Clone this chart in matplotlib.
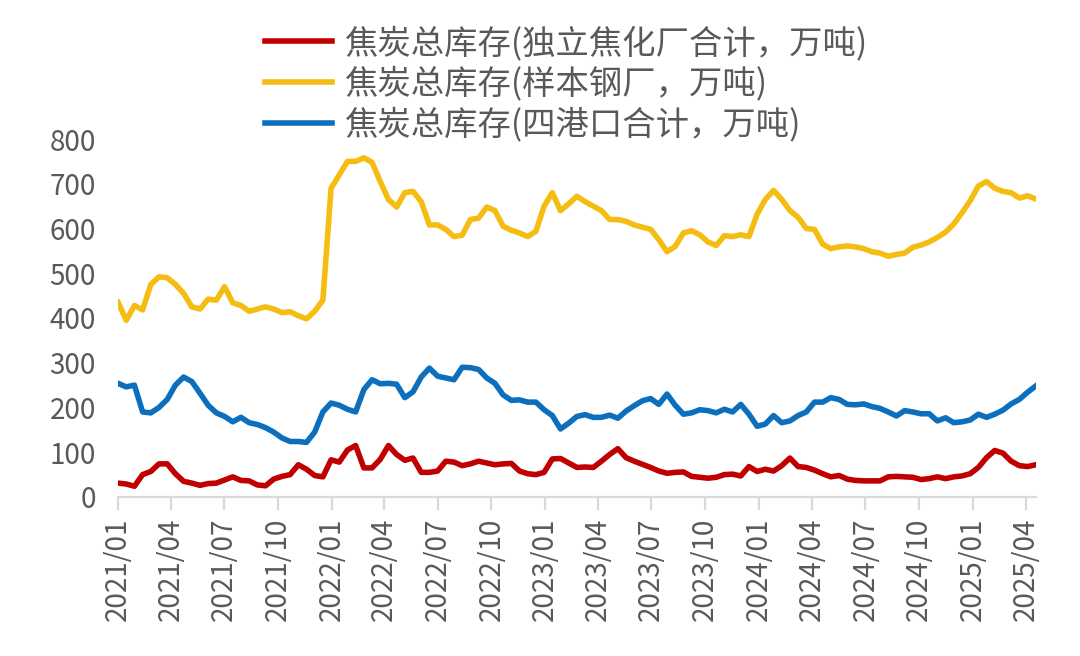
import matplotlib
matplotlib.use("Agg")
import matplotlib.pyplot as plt
import matplotlib.dates as mdates
import numpy as np
import pandas as pd

plt.rcParams['font.family'] = ['Noto Sans CJK SC', 'DejaVu Sans']

# biweekly observations, 2021-01-01 .. 2025-04-18
dates = pd.date_range('2021-01-01', periods=113, freq='14D')

# 焦炭总库存(独立焦化厂合计，万吨)
coking_plants = [
    31, 29, 24, 50, 57, 74, 74, 52, 35, 31,
    26, 30, 31, 38, 45, 37, 36, 27, 25, 40,
    46, 50, 72, 62, 48, 45, 83, 78, 105, 115,
    65, 65, 84, 115, 95, 82, 87, 55, 55, 58,
    80, 78, 70, 74, 80, 76, 72, 74, 75, 58,
    52, 50, 55, 85, 86, 76, 66, 67, 66, 80,
    95, 108, 88, 80, 73, 66, 58, 53, 55, 56,
    46, 44, 42, 44, 50, 51, 47, 68, 57, 62,
    58, 70, 87, 68, 66, 60, 52, 45, 48, 40,
    37, 36, 36, 36, 45, 46, 45, 44, 39, 41,
    45, 41, 45, 47, 52, 66, 88, 104, 98, 80,
    70, 68, 72,
]

# 焦炭总库存(样本钢厂，万吨)
steel_mills = [
    435, 395, 428, 418, 475, 492, 490, 475, 455, 425,
    420, 442, 440, 470, 434, 428, 415, 420, 425, 420,
    412, 414, 405, 398, 415, 440, 690, 720, 750, 750,
    758, 748, 705, 665, 648, 680, 683, 660, 608, 608,
    598, 582, 585, 620, 623, 648, 640, 605, 596, 590,
    582, 594, 650, 680, 640, 655, 672, 660, 650, 640,
    620, 620, 616, 608, 603, 598, 575, 548, 560, 590,
    595, 586, 570, 562, 584, 582, 586, 582, 632, 665,
    685, 665, 640, 625, 600, 598, 565, 555, 559, 561,
    559, 555, 548, 545, 538, 542, 545, 558, 563, 570,
    580, 592, 610, 635, 662, 695, 705, 690, 683, 680,
    668, 673, 666,
]

# 焦炭总库存(四港口合计，万吨)
four_ports = [
    254, 246, 250, 190, 188, 200, 218, 250, 268, 258,
    232, 205, 188, 180, 168, 178, 166, 162, 155, 145,
    132, 124, 124, 122, 145, 190, 210, 205, 196, 190,
    240, 262, 253, 254, 252, 222, 235, 268, 288, 270,
    266, 262, 290, 289, 285, 266, 254, 228, 216, 217,
    212, 212, 195, 182, 152, 165, 180, 184, 178, 178,
    183, 176, 192, 204, 215, 220, 207, 230, 205, 185,
    188, 195, 193, 188, 196, 190, 207, 185, 158, 163,
    182, 166, 170, 182, 190, 212, 212, 222, 218, 207,
    206, 208, 202, 198, 190, 181, 193, 190, 186, 186,
    170, 177, 166, 168, 172, 185, 178, 185, 194, 208,
    218, 234, 248,
]

labels = ['焦炭总库存(独立焦化厂合计，万吨)',
          '焦炭总库存(样本钢厂，万吨)',
          '焦炭总库存(四港口合计，万吨)']
colors = ['#C00000', '#F5BC12', '#0B6FBE']

fig = plt.figure(figsize=(10.8, 6.56), dpi=100)
ax = fig.add_axes([0.1093, 0.2424, 0.8497, 0.5457])

for series, lab, col in zip([coking_plants, steel_mills, four_ports], labels, colors):
    ax.plot(dates, series, color=col, lw=4.0, label=lab, solid_joinstyle='round')

ax.set_ylim(0, 800)
ax.set_yticks(np.arange(0, 801, 100))
ax.set_xlim(dates[0], dates[-1])
ax.xaxis.set_major_locator(mdates.MonthLocator(bymonth=[1, 4, 7, 10]))
ax.xaxis.set_major_formatter(mdates.DateFormatter('%Y/%m'))

for s in ['top', 'right', 'left']:
    ax.spines[s].set_visible(False)
ax.spines['bottom'].set_color('#D9D9D9')
ax.spines['bottom'].set_linewidth(1.6)

ax.tick_params(axis='x', colors='#D9D9D9', length=9, width=1.6, pad=6,
               labelsize=20, labelcolor='#595959', labelrotation=90)
ax.tick_params(axis='y', length=0, pad=16, labelsize=20, labelcolor='#595959')

fig.legend(loc='upper left', bbox_to_anchor=(265 / 1080, 1 - 26 / 656),
           frameon=False, fontsize=24, handlelength=2.0, handletextpad=0.4,
           labelspacing=0.17, borderpad=0, borderaxespad=0,
           labelcolor='#595959')

fig.savefig('out.png', dpi=100)
